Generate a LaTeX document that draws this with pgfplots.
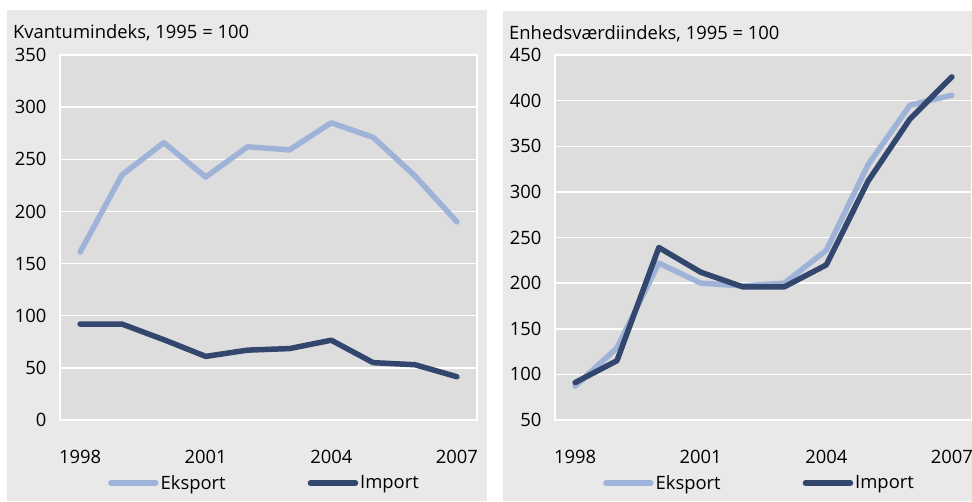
\documentclass[border=0pt]{standalone}
\usepackage{pgfplots}
\pgfplotsset{compat=1.18}
\usepackage{fontspec}
\setmainfont{Open Sans}
\definecolor{outerbg}{HTML}{E9E9E9}
\definecolor{plotbg}{HTML}{DDDDDD}
\definecolor{eks}{HTML}{9FB3D9}
\definecolor{imp}{HTML}{33466E}
\newcommand{\fs}{\fontsize{18.4}{20}\selectfont}
\pgfplotsset{
  panel/.style={
    scale only axis, width=417pt, height=365pt,
    xmin=1997.52, xmax=2007.48,
    xtick={1998,2001,2004,2007},
    ymajorgrids, grid style={white, line width=1.5pt},
    axis background/.style={fill=plotbg},
    axis line style={white, line width=1.5pt},
    major tick length=0pt,
    tick label style={font=\fs},
    /pgf/number format/assume math mode=true,
    /pgf/number format/1000 sep={},
    yticklabel style={xshift=-10pt},
    xticklabel style={yshift=-27pt},
    legend columns=2,
    legend style={draw=none, fill=none, font=\fs, anchor=west,
      at={(0.115,-0.1726)}, inner sep=0pt, nodes={inner sep=2pt},
      /tikz/every even column/.append style={column sep=80pt}},
    legend image code/.code={\draw[##1] (3pt,0pt) -- (48pt,0pt);},
    every axis plot/.append style={line width=5.5pt, line cap=round, line join=round},
  }
}
\begin{document}
\begin{tikzpicture}
\useasboundingbox (0pt,0pt) rectangle (972pt,-501pt);
\fill[white] (0pt,0pt) rectangle (972pt,-501pt);
\fill[outerbg] (7pt,-10pt) rectangle (487pt,-501pt);
\fill[outerbg] (503pt,-11pt) rectangle (972pt,-501pt);
\node[anchor=west, font=\fs, inner sep=0pt] at (13pt,-33pt) {Kvantumindeks, 1995 = 100};
\node[anchor=west, font=\fs, inner sep=0pt] at (509pt,-34pt) {Enhedsværdiindeks, 1995 = 100};
\begin{axis}[panel, at={(60pt,-420pt)}, anchor=south west,
  ymin=0, ymax=350, ytick={0,50,...,350}]
\addplot[eks] coordinates {(1998,161) (1999,235) (2000,266) (2001,233) (2002,262) (2003,259) (2004,285) (2005,271) (2006,234) (2007,190)};
\addlegendentry{Eksport}
\addplot[imp] coordinates {(1998,92) (1999,92) (2000,77) (2001,61) (2002,67) (2003,68.5) (2004,76.5) (2005,55) (2006,53) (2007,41.5)};
\addlegendentry{Import}
\end{axis}
\begin{axis}[panel, at={(555pt,-420pt)}, anchor=south west,
  ymin=50, ymax=450, ytick={50,100,...,450}]
\addplot[eks] coordinates {(1998,87) (1999,129) (2000,222) (2001,200) (2002,197) (2003,200) (2004,236) (2005,330) (2006,395) (2007,406)};
\addlegendentry{Eksport}
\addplot[imp] coordinates {(1998,91) (1999,115) (2000,239) (2001,212) (2002,196) (2003,196) (2004,220) (2005,312) (2006,380) (2007,426)};
\addlegendentry{Import}
\end{axis}
\end{tikzpicture}
\end{document}
